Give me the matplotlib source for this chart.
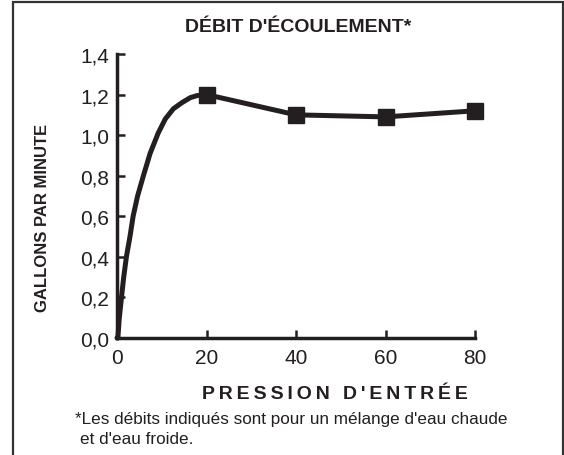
import matplotlib
matplotlib.use("Agg")
import matplotlib.pyplot as plt
from matplotlib.patches import Rectangle

plt.rcParams['font.family'] = ['Liberation Sans', 'DejaVu Sans']

pressure = [0, 0.2, 0.5, 1.0, 1.5, 2.1, 2.9, 3.6, 4.6, 5.9, 7.4, 9.2, 10.8,
            12.6, 14.5, 16.4, 17.9, 20, 40, 60, 80]
flow = [0, 0.0, 0.095, 0.2, 0.3, 0.4, 0.5, 0.6, 0.7, 0.8, 0.91, 1.01, 1.08,
        1.13, 1.16, 1.185, 1.195, 1.2, 1.1, 1.09, 1.12]
marker_x = [20, 40, 60, 80]
marker_y = [1.2, 1.1, 1.09, 1.12]

xticks = [0, 20, 40, 60, 80]
yticks = [0, 0.2, 0.4, 0.6, 0.8, 1.0, 1.2, 1.4]
ytick_labels = ['0,0', '0,2', '0,4', '0,6', '0,8', '1,0', '1,2', '1,4']

ink = '#231f20'

fig = plt.figure(figsize=(5.64, 4.56), dpi=100)
ax = fig.add_axes([117/564, 1 - 339/456, (475 - 117)/564, (339 - 55)/456])

ax.plot(pressure, flow, color=ink, lw=3.6, solid_joinstyle='round',
        solid_capstyle='round', clip_on=False, zorder=3)
ax.plot(marker_x, marker_y, ls='none', marker='s', ms=12, color=ink,
        clip_on=False, zorder=4)

ax.set_xlim(0, 80)
ax.set_ylim(0, 1.4)
ax.set_xticks(xticks)
ax.set_yticks(yticks)
ax.set_yticklabels(ytick_labels)
for s in ['top', 'right']:
    ax.spines[s].set_visible(False)
for s in ['left', 'bottom']:
    ax.spines[s].set_linewidth(2.5)
    ax.spines[s].set_color(ink)
ax.tick_params(direction='in', length=6, width=1.8, color=ink,
               labelsize=15, labelcolor=ink)
ax.tick_params(axis='y', pad=5.5)
ax.tick_params(axis='x', pad=7)

fig.text(298/564, 1 - 28/456, "DÉBIT D'ÉCOULEMENT*", ha='center', va='center',
         fontsize=14, fontweight='bold', color=ink)
fig.text(43/564, 1 - 218/456, 'GALLONS PAR MINUTE', ha='center', va='center',
         rotation=90, fontsize=12, fontweight='bold', color=ink)
fig.text(335/564, 1 - 395/456, '\u2009'.join("PRESSION D'ENTRÉE"), ha='center',
         va='center', fontsize=14, fontweight='bold', color=ink)
fig.text(75/564, 1 - 420/456, "*Les débits indiqués sont pour un mélange d'eau chaude",
         ha='left', va='center', fontsize=12.3, color=ink)
fig.text(80/564, 1 - 440/456, "et d'eau froide.", ha='left', va='center',
         fontsize=12.3, color=ink)

fig.patches.append(Rectangle((13/564, -0.05), 550/564, 1.05 - 3/456,
                             transform=fig.transFigure, fill=False,
                             lw=1.6, edgecolor='#333333'))

fig.savefig('out.png', dpi=100)
